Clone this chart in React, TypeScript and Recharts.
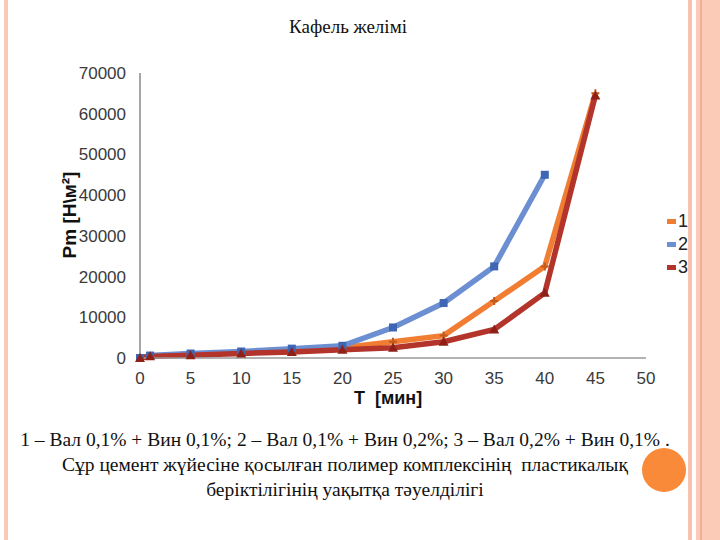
import React from 'react';
import { LineChart, Line, XAxis, YAxis } from 'recharts';

const xTicks = [0, 5, 10, 15, 20, 25, 30, 35, 40, 45, 50];
const yTicks = [0, 10000, 20000, 30000, 40000, 50000, 60000, 70000];

const times1 = [0, 1, 5, 10, 15, 20, 25, 30, 35, 40, 45];
const values1 = [0, 500, 900, 1300, 1800, 2500, 4000, 5500, 14000, 22500, 65000];

const times2 = [0, 1, 5, 10, 15, 20, 25, 30, 35, 40];
const values2 = [0, 600, 1100, 1600, 2300, 3000, 7500, 13500, 22500, 45000];

const times3 = [0, 1, 5, 10, 15, 20, 25, 30, 35, 40, 45];
const values3 = [0, 400, 700, 1100, 1500, 2000, 2500, 4000, 7000, 16000, 64500];

const seriesNames = ['1', '2', '3'];
const seriesColors = ['#F07D32', '#6C8FD2', '#B2342A'];

const serif = "'Liberation Serif', 'Times New Roman', serif";
const sans = "'Liberation Sans', Arial, sans-serif";

const toRows = (xs: number[], ys: number[]) => xs.map((t, i) => ({ t, v: ys[i] }));

const StarDot = (props: any) => {
  const { cx, cy } = props;
  if (cx == null || cy == null) return null;
  return (
    <path d={`M${cx - 4},${cy}L${cx + 4},${cy}M${cx},${cy - 4}L${cx},${cy + 4}`} stroke="#C05A1E" strokeWidth={2} />
  );
};

const SquareDot = (props: any) => {
  const { cx, cy } = props;
  if (cx == null || cy == null) return null;
  return <rect x={cx - 4} y={cy - 4} width={8} height={8} fill="#3F66B5" />;
};

const TriDot = (props: any) => {
  const { cx, cy } = props;
  if (cx == null || cy == null) return null;
  return <path d={`M${cx},${cy - 5}L${cx + 5},${cy + 4}L${cx - 5},${cy + 4}Z`} fill="#8E2018" />;
};

export default function App() {
  const tickStyle = { fontFamily: sans, fontSize: 17, fill: '#3a3a3a' };
  return (
    <div style={{ position: 'absolute', left: 0, top: 0, width: 720, height: 540, background: '#fff', overflow: 'hidden' }}>
      {/* slide border */}
      <div style={{ position: 'absolute', left: 4, top: 0, width: 4, height: 540, background: '#F9C9BA' }} />
      <div style={{ position: 'absolute', left: 688, top: 0, width: 4, height: 540, background: '#F7C2B0' }} />
      <div style={{ position: 'absolute', left: 696, top: 0, width: 24, height: 540, background: '#FCCBB8' }} />
      <div style={{ position: 'absolute', left: 700, top: 0, width: 2, height: 540, background: '#F2AE92' }} />

      <div style={{ position: 'absolute', left: 0, top: 16, width: 696, textAlign: 'center', fontFamily: serif, fontSize: 19, color: '#111' }}>
        Кафель желімі
      </div>

      <div style={{ position: 'absolute', left: 0, top: 0 }}>
        <LineChart width={720} height={540} margin={{ top: 73, right: 74, bottom: 152, left: 80 }}>
          <XAxis
            type="number"
            dataKey="t"
            domain={[0, 50]}
            ticks={xTicks}
            tickLine={false}
            axisLine={{ stroke: '#999', strokeWidth: 1.5 }}
            tick={tickStyle}
            tickMargin={8}
            height={30}
            allowDuplicatedCategory={false}
          />
          <YAxis
            type="number"
            domain={[0, 70000]}
            ticks={yTicks}
            tickLine={false}
            axisLine={{ stroke: '#888', strokeWidth: 1.5 }}
            tick={tickStyle}
            tickMargin={8}
            width={60}
          />
          <Line data={toRows(times1, values1)} dataKey="v" name={seriesNames[0]} stroke={seriesColors[0]} strokeWidth={5.5} dot={<StarDot />} isAnimationActive={false} />
          <Line data={toRows(times2, values2)} dataKey="v" name={seriesNames[1]} stroke={seriesColors[1]} strokeWidth={5.5} dot={<SquareDot />} isAnimationActive={false} />
          <Line data={toRows(times3, values3)} dataKey="v" name={seriesNames[2]} stroke={seriesColors[2]} strokeWidth={5.5} dot={<TriDot />} isAnimationActive={false} />
        </LineChart>
      </div>

      {/* legend */}
      <div style={{ position: 'absolute', left: 667, top: 210, fontFamily: sans, fontSize: 18, color: '#222', lineHeight: '23px' }}>
        {seriesNames.map((n, i) => (
          <div key={n} style={{ display: 'flex', alignItems: 'center' }}>
            <span style={{ display: 'inline-block', width: 9, height: 5, background: seriesColors[i], marginRight: 2 }} />
            {n}
          </div>
        ))}
      </div>

      <div style={{ position: 'absolute', left: 50, top: 175, width: 40, height: 80 }}>
        <div style={{ position: 'absolute', left: 20, top: 40, transform: 'translate(-50%, -50%) rotate(-90deg)', whiteSpace: 'nowrap', fontFamily: sans, fontWeight: 'bold', fontSize: 19, color: '#111' }}>
          Pm [Н\м²]
        </div>
      </div>

      <div style={{ position: 'absolute', left: 354, top: 388, fontFamily: sans, fontWeight: 'bold', fontSize: 18, color: '#111', whiteSpace: 'nowrap' }}>
        Τ&nbsp;&nbsp;[мин]
      </div>

      <div style={{ position: 'absolute', left: 0, top: 427, width: 690, textAlign: 'center', fontFamily: serif, fontSize: 19.5, color: '#111', lineHeight: '25px' }}>
        <div>1 – Вал 0,1% + Вин 0,1%; 2 – Вал 0,1% + Вин 0,2%; 3 – Вал 0,2% + Вин 0,1% .</div>
        <div>Сұр цемент жүйесіне қосылған полимер комплексінің&nbsp; пластикалық</div>
        <div>беріктілігінің уақытқа тәуелділігі</div>
      </div>

      <div style={{ position: 'absolute', left: 642, top: 448, width: 44, height: 44, borderRadius: '50%', background: '#F98A3A' }} />
    </div>
  );
}
